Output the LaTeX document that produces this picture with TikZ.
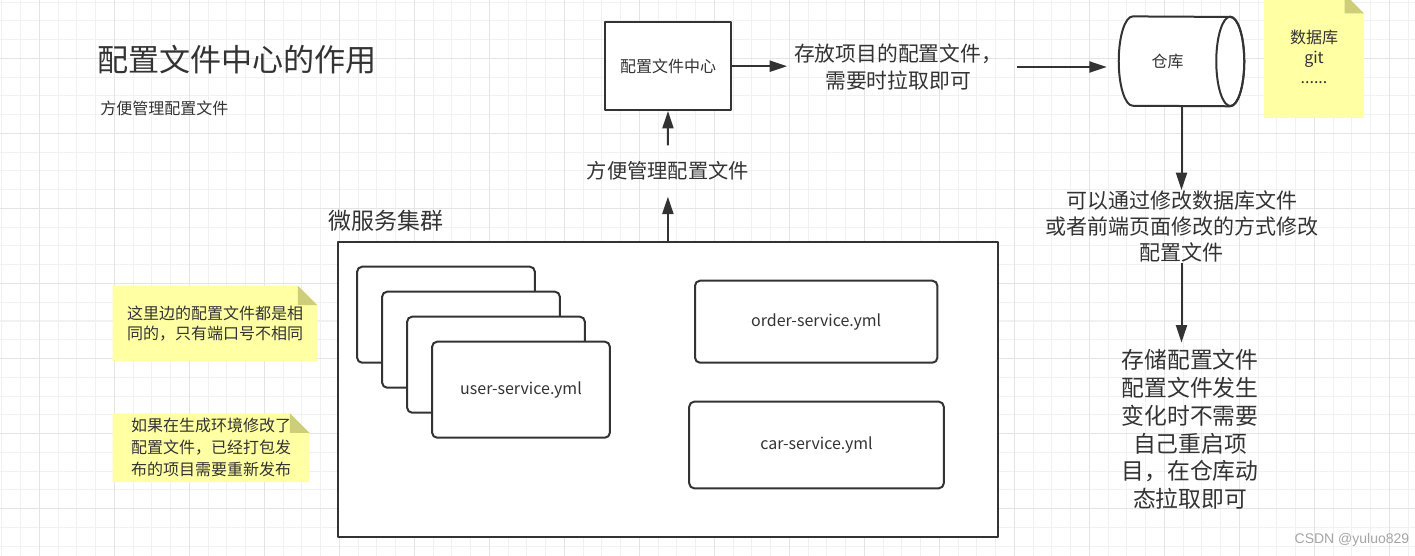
\documentclass[tikz,border=0pt]{standalone}
\usepackage{fontspec}
\setmainfont{Noto Sans CJK SC}
\newfontfamily\wmfont{Liberation Sans}
\usetikzlibrary{arrows.meta}
\definecolor{ink}{RGB}{51,51,51}
\definecolor{gridminor}{RGB}{241,241,241}
\definecolor{gridmajor}{RGB}{228,228,228}
\definecolor{notebg}{RGB}{255,255,163}
\definecolor{notefold}{RGB}{205,205,122}
\definecolor{wmgray}{RGB}{165,165,165}
\newcommand{\fs}[2]{\fontsize{#1}{#2}\selectfont}
% left, top, width, height
\newcommand{\stickynote}[4]{%
  \fill[notebg] (#1,#2) -- ++(#3-19.5,0) -- ++(19.5,-19.5) -- ++(0,-#4+19.5) -- ++(-#3,0) -- cycle;
  \fill[notefold] (#1+#3-19.5,#2) -- ++(0,-19.5) -- ++(19.5,0) -- cycle;}
\begin{document}
\begin{tikzpicture}[x=0.75pt, y=0.75pt, >={Triangle[length=13pt,width=8.25pt]}, line join=round,
  box/.style={draw=ink, line width=1.5pt, fill=white, inner sep=0, text=ink},
  card/.style={box, rounded corners=3.75pt, minimum width=133.3pt, minimum height=72pt, font=\fs{12pt}{15pt}},
  lbl/.style={text=ink, inner sep=0, align=center},
  arr/.style={->, draw=ink, line width=1.5pt}]
\useasboundingbox (0,0) rectangle (1415,-556);
\fill[white] (0,0) rectangle (1415,-556);
\clip (0,0) rectangle (1415,-556);
% grid
\foreach \i in {0,...,75} \draw[gridminor, line width=0.75pt] (1.8+18.75*\i,0) -- ++(0,-556);
\foreach \j in {0,...,29} \draw[gridminor, line width=0.75pt] (0,-2.25-18.75*\j) -- ++(1415,0);
\foreach \i in {0,...,18} \draw[gridmajor, line width=0.75pt] (39.3+75*\i,0) -- ++(0,-556);
\foreach \j in {0,...,6} \draw[gridmajor, line width=0.75pt] (0,-58.5-75*\j) -- ++(1415,0);

\node[lbl, anchor=west, font=\fs{23.3pt}{28pt}] (title) at (97,-59.3) {配置文件中心的作用};
\node[lbl, anchor=west, font=\fs{12pt}{15pt}] (subtitle) at (100,-108) {方便管理配置文件};

\node[box, minimum width=94.5pt, minimum height=65.8pt, font=\fs{12pt}{15pt}] (cfgcenter) at (668,-66.2) {配置文件中心};
\node[lbl, inner xsep=5pt, font=\fs{15.6pt}{20.5pt}] (storetext) at (898,-67) {存放项目的配置文件，\\需要时拉取即可};

% repository cylinder
\node[minimum width=93.75pt, minimum height=67pt, inner sep=0] (repo) at (1181.5,-61.35) {};
\draw[ink, line width=1.5pt, fill=white] ([xshift=10.5pt]repo.north west) arc[start angle=90, end angle=270, x radius=10.5pt, y radius=33.5pt]
  -- ([xshift=-10.5pt]repo.south east) arc[start angle=-90, end angle=90, x radius=10.5pt, y radius=33.5pt] -- cycle;
\draw[ink, line width=1.5pt] ([xshift=-10.5pt]repo.east) ellipse[x radius=10.5pt, y radius=33.5pt];
\node[lbl, font=\fs{12pt}{15pt}] (repolabel) at ([xshift=-10.5pt]repo.center) {仓库};

\draw[arr] (cfgcenter.east) -- (cfgcenter.east -| storetext.west);
\draw[arr, shorten <=6pt, shorten >=9pt] (storetext.east) -- (storetext.east -| repo.west);

\stickynote{1264}{6}{100}{124}
\node[lbl, font=\fs{12pt}{15pt}] (gitnote) at (1314,-56.6) {数据库\\git\\......};

% right column
\node[lbl, font=\fs{15.75pt}{19.8pt}] (modtext) at (1181.5,-226.4) {可以通过修改数据库文件\\或者前端页面修改的方式修改\\配置文件};
\node[lbl, inner ysep=5pt, font=\fs{17.1pt}{20.85pt}] (dyntext) at (1190,-429.5) {存储配置文件\\配置文件发生\\变化时不需要\\自己重启项\\目，在仓库动\\态拉取即可};
\draw[arr] (repo.south) -- (repo.south |- modtext.north);
\draw[arr] (modtext.south) -- (modtext.south |- dyntext.north);

% cluster
\node[box, minimum width=494.8pt, minimum height=221.3pt] (cluster) at (667.9,-389.8) {};
\node[lbl, anchor=west, font=\fs{17.2pt}{20pt}] (clusterlabel) at (328,-221) {微服务集群};
\foreach \i in {0,1,2} \node[card] (ucard\i) at (446+25*\i,-314.7-25*\i) {};
\node[card] (usersvc) at (521,-389.7) {user-service.yml};
\node[box, rounded corners=3.75pt, minimum width=181.8pt, minimum height=61.5pt, font=\fs{12pt}{15pt}] (ordersvc) at (816.2,-321.7) {order-service.yml};
\node[box, rounded corners=3.75pt, minimum width=190.9pt, minimum height=65pt, font=\fs{12pt}{15pt}] (carsvc) at (816.5,-445) {car-service.yml};

\node[lbl, inner ysep=12pt, font=\fs{15.2pt}{18pt}] (midlabel) at (667.9,-171) {方便管理配置文件};
\draw[arr] (cluster.north) -- (midlabel.south);
\draw[arr] (midlabel.north) -- (cfgcenter.south);

% notes
\stickynote{112.7}{-285.7}{204.6}{75.3}
\node[lbl, font=\fs{12pt}{15pt}] (samenote) at (215,-323.3) {这里边的配置文件都是相\\同的，只有端口号不相同};
\stickynote{112.7}{-413.3}{196.6}{68.7}
\node[lbl, font=\fs{12pt}{16.35pt}] (prodnote) at (211,-447.5) {如果在生成环境修改了\\配置文件，已经打包发\\布的项目需要重新发布};

\node[anchor=east, inner sep=0, text=wmgray, font=\wmfont\fs{10.5pt}{12pt}] (watermark) at (1409.5,-539.5) {CSDN @yuluo829};
\end{tikzpicture}
\end{document}
